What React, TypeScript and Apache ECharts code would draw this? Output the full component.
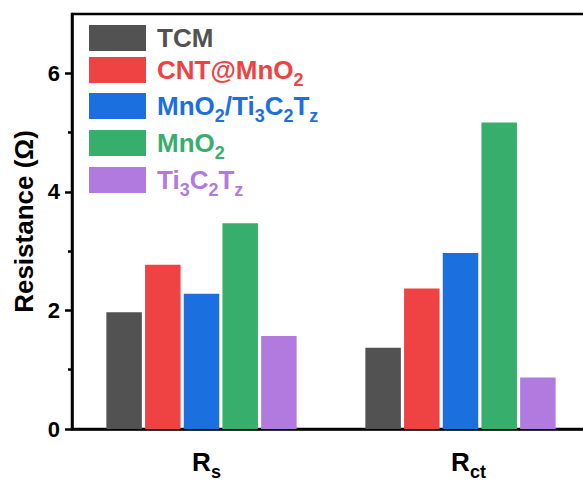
import React, { useEffect, useRef } from "react";
import * as echarts from "echarts";

// ---- data ----
const categories = ["Rs", "Rct"];
const seriesNames = ["TCM", "CNT@MnO2", "MnO2/Ti3C2Tz", "MnO2", "Ti3C2Tz"];
const tcmValues = [1.97, 1.37];
const cntMnO2Values = [2.77, 2.37];
const mnO2Ti3C2TzValues = [2.28, 2.97];
const mnO2Values = [3.47, 5.17];
const ti3C2TzValues = [1.57, 0.87];
const seriesColors = ["#525252", "#ef4242", "#1b6fdf", "#38ae6c", "#b17adf"];
const yMajorTicks = [0, 2, 4, 6];
const yMinorTicks = [1, 3, 5];
const yName = "Resistance (Ω)";

// text pieces: [text, isSubscript]
const legendParts: [string, number][][] = [
  [["TCM", 0]],
  [["CNT@MnO", 0], ["2", 1]],
  [["MnO", 0], ["2", 1], ["/Ti", 0], ["3", 1], ["C", 0], ["2", 1], ["T", 0], ["z", 1]],
  [["MnO", 0], ["2", 1]],
  [["Ti", 0], ["3", 1], ["C", 0], ["2", 1], ["T", 0], ["z", 1]],
];
const categoryParts: [string, number][][] = [
  [["R", 0], ["s", 1]],
  [["R", 0], ["ct", 1]],
];

const FONT = 'Arial, "Liberation Sans", sans-serif';

export default function App() {
  const ref = useRef<HTMLDivElement>(null);
  useEffect(() => {
    if (!ref.current) return;
    const chart = echarts.init(ref.current, undefined, { renderer: "svg" });

    const seriesData = [tcmValues, cntMnO2Values, mnO2Ti3C2TzValues, mnO2Values, ti3C2TzValues];

    const legendRich: Record<string, any> = {};
    seriesColors.forEach((c, i) => {
      const lh = i === 0 ? 28 : 38;
      legendRich["a" + i] = { color: c, fontSize: 26, fontWeight: "bold", fontFamily: FONT, lineHeight: lh, padding: [0, 0, 0, 6] };
      legendRich["m" + i] = { color: c, fontSize: 26, fontWeight: "bold", fontFamily: FONT, lineHeight: lh };
      legendRich["s" + i] = { color: c, fontSize: 18, fontWeight: "bold", fontFamily: FONT, verticalAlign: "bottom" };
    });

    const xRich: Record<string, any> = {
      s: { color: "#000", fontSize: 18, fontWeight: "bold", fontFamily: FONT, verticalAlign: "bottom" },
    };
    const subPad = [10, 16];
    categoryParts.forEach((_, i) => {
      xRich["m" + i] = { color: "#000", fontSize: 26, fontWeight: "bold", fontFamily: FONT, lineHeight: 38, padding: [0, 0, 0, subPad[i]] };
    });

    const legendTops = [25, 57, 93, 130, 167];
    const legends = seriesNames.map((name, i) => ({
      orient: "vertical",
      left: 89,
      top: legendTops[i],
      padding: 0,
      itemWidth: 57,
      itemHeight: 26,
      icon: "rect",
      selectedMode: false,
      data: [name],
      formatter: (n: string) => {
        const k = seriesNames.indexOf(n);
        return legendParts[k]
          .map((p, j) => `{${p[1] ? "s" : j === 0 ? "a" : "m"}${k}|${p[0]}}`)
          .join("");
      },
      textStyle: { rich: legendRich },
    }));

    const option: any = {
      animation: false,
      backgroundColor: "#fff",
      grid: {
        left: 72,
        top: 14,
        right: 10,
        bottom: 54,
        show: true,
        borderColor: "#000",
        borderWidth: 2.5,
        backgroundColor: "transparent",
        outerBoundsMode: "none",
      },
      legend: legends,
      xAxis: {
        type: "category",
        data: categories,
        axisLine: { lineStyle: { color: "#000", width: 2.5 } },
        axisTick: { alignWithLabel: true, length: 7, lineStyle: { color: "#000", width: 2.5 } },
        axisLabel: {
          margin: 14,
          formatter: (v: string) => {
            const i = categories.indexOf(v);
            return categoryParts[i].map((p) => `{${p[1] ? "s" : "m" + i}|${p[0]}}`).join("");
          },
          rich: xRich,
        },
        splitLine: { show: false },
      },
      yAxis: [
        {
          type: "value",
          position: "left",
          min: 0,
          max: 7,
          interval: 1,
          name: yName,
          nameLocation: "middle",
          nameGap: 30,
          nameRotate: 90,
          nameTextStyle: { color: "#000", fontSize: 26, fontWeight: "bold", fontFamily: FONT },
          axisLine: { show: true, lineStyle: { color: "#000", width: 2.5 } },
          axisTick: { show: true, length: 7, customValues: yMajorTicks, lineStyle: { color: "#000", width: 2.5 } },
          axisLabel: { customValues: yMajorTicks, margin: 12, color: "#000", fontSize: 22, fontWeight: "bold", fontFamily: FONT },
          splitLine: { show: false },
        },
        {
          type: "value",
          position: "left",
          min: 0,
          max: 7,
          interval: 1,
          axisLine: { show: false },
          axisTick: { show: true, length: 4, customValues: yMinorTicks, lineStyle: { color: "#000", width: 2.5 } },
          axisLabel: { show: false },
          splitLine: { show: false },
        },
      ],
      series: seriesNames.map((name, i) => ({
        name,
        type: "bar",
        data: seriesData[i],
        barWidth: 35.5,
        barGap: "9%",
        itemStyle: { color: seriesColors[i] },
        silent: true,
      })),
    };

    chart.setOption(option);
    return () => chart.dispose();
  }, []);

  return (
    <div
      ref={ref}
      style={{ position: "fixed", left: 0, top: 0, width: 600, height: 483 }}
    />
  );
}
